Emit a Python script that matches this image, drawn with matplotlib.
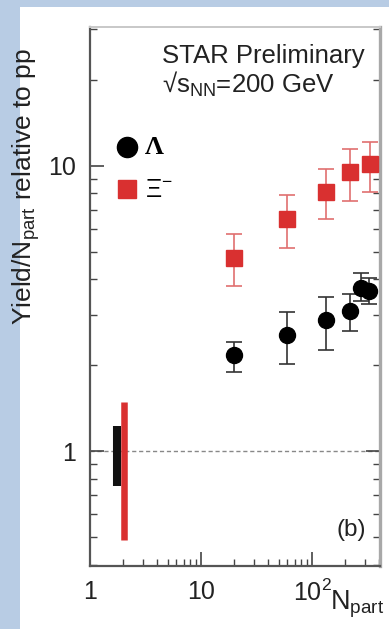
import matplotlib
matplotlib.use("Agg")
import matplotlib.pyplot as plt
from matplotlib.patches import Rectangle
from matplotlib.ticker import LogLocator, NullFormatter, FixedLocator, FixedFormatter

plt.rcParams['font.family'] = ['Liberation Sans', 'DejaVu Sans']
plt.rcParams['mathtext.fontset'] = 'custom'
plt.rcParams['mathtext.rm'] = 'Liberation Sans'
plt.rcParams['mathtext.it'] = 'Liberation Sans'
plt.rcParams['mathtext.bf'] = 'Liberation Sans:bold'

# Lambda data
npart_lambda = [20, 59, 134, 220, 276, 328]
lambda_y = [2.17, 2.55, 2.87, 3.09, 3.74, 3.65]
lambda_lo = [1.90, 2.02, 2.26, 2.63, 3.37, 3.28]
lambda_hi = [2.41, 3.06, 3.48, 3.55, 4.20, 4.05]

# Xi- data
npart_xi = [20, 60, 134, 220, 332]
xi_y = [4.76, 6.51, 8.07, 9.49, 10.1]
xi_lo = [3.78, 5.15, 6.48, 7.55, 8.07]
xi_hi = [5.77, 7.90, 9.74, 11.4, 12.1]

# normalization uncertainty bands
norm_x = [1.74, 2.04]
norm_lo = [0.755, 0.489]
norm_hi = [1.22, 1.49]

xticks = [1, 10, 100]
xticklabels = ['1', '10', '$10^{2}$']
yticks = [1, 10]
yticklabels = ['1', '10']

fig = plt.figure(figsize=(3.89, 6.29), dpi=100)
fig.patch.set_facecolor('#b8cce4')
fig.patches.append(Rectangle((20/389, 0), 1 - 20/389, 1 - 7/629,
                             transform=fig.transFigure, facecolor='white',
                             edgecolor='none', zorder=-10))

ax = fig.add_axes([90/389, 1 - 566/629, 290/389, 539/629])
ax.set_facecolor('none')
ax.set_xscale('log')
ax.set_yscale('log')
ax.set_xlim(1, 410)
ax.set_ylim(0.396, 30.6)

ax.axhline(1, color='#888888', lw=1, ls=(0, (3, 2)), zorder=1)

lam_err = [[y - l for y, l in zip(lambda_y, lambda_lo)],
           [h - y for y, h in zip(lambda_y, lambda_hi)]]
xi_err = [[y - l for y, l in zip(xi_y, xi_lo)],
          [h - y for y, h in zip(xi_y, xi_hi)]]

ax.errorbar(npart_xi, xi_y, yerr=xi_err, fmt='s', color='#d93030', ms=11,
            ecolor='#e07070', elinewidth=1.2, capsize=6, capthick=1.2, zorder=3)
ax.errorbar(npart_lambda, lambda_y, yerr=lam_err, fmt='o', color='black', ms=11.5,
            ecolor='#333333', elinewidth=1.2, capsize=6, capthick=1.2, zorder=4)

ax.plot([norm_x[0], norm_x[0]], [norm_lo[0], norm_hi[0]], color='#111111',
        lw=5.8, solid_capstyle='butt', zorder=3)
ax.plot([norm_x[1], norm_x[1]], [norm_lo[1], norm_hi[1]], color='#d93030',
        lw=4.7, solid_capstyle='butt', zorder=3)

# legend drawn manually
ax.plot([0.128], [0.778], 'o', color='black', ms=14.5, transform=ax.transAxes, clip_on=False)
ax.text(0.19, 0.776, 'Λ', transform=ax.transAxes, fontsize=19, fontweight='bold',
        va='center', ha='left', family=['Liberation Serif', 'DejaVu Serif'])
ax.plot([0.128], [0.70], 's', color='#d93030', ms=13, transform=ax.transAxes, clip_on=False)
ax.text(0.19, 0.697, 'Ξ$^{-}$', transform=ax.transAxes, fontsize=18,
        va='center', ha='left')

ax.text(0.248, 0.947, 'STAR Preliminary', transform=ax.transAxes, fontsize=18.5,
        va='center', ha='left', color='#222222')
ax.text(0.248, 0.893, '√s$_{NN}$=200 GeV', transform=ax.transAxes, fontsize=18.5,
        va='center', ha='left', color='#222222')
ax.text(0.95, 0.067, '(b)', transform=ax.transAxes, fontsize=17.5,
        va='center', ha='right', color='#222222')

ax.xaxis.set_major_locator(FixedLocator(xticks))
ax.xaxis.set_major_formatter(FixedFormatter(xticklabels))
ax.xaxis.set_minor_locator(LogLocator(base=10, subs=range(2, 10), numticks=20))
ax.xaxis.set_minor_formatter(NullFormatter())
ax.yaxis.set_major_locator(FixedLocator(yticks))
ax.yaxis.set_major_formatter(FixedFormatter(yticklabels))
ax.yaxis.set_minor_locator(LogLocator(base=10, subs=range(2, 10), numticks=20))
ax.yaxis.set_minor_formatter(NullFormatter())

ax.tick_params(which='both', direction='in', top=False, right=True,
               labelsize=18, color='#444444', labelcolor='#222222')
ax.tick_params(which='major', length=10, width=1.2)
ax.tick_params(which='minor', length=5, width=1.0)
ax.tick_params(axis='x', which='major', pad=10)
ax.tick_params(axis='y', which='major', pad=10)

ax.spines['left'].set_color('#555555')
ax.spines['bottom'].set_color('#555555')
ax.spines['left'].set_linewidth(1.6)
ax.spines['bottom'].set_linewidth(1.6)
ax.spines['right'].set_color('#a8a8a8')
ax.spines['right'].set_linewidth(2.4)
ax.spines['top'].set_color('#c8c8c8')
ax.spines['top'].set_linewidth(1.4)

ax.set_ylabel('Yield/N$_{part}$ relative to pp', fontsize=19, color='#222222')
ax.yaxis.set_label_coords(-0.165, 0.705)
ax.text(1.015, -0.072, 'N$_{part}$', transform=ax.transAxes, fontsize=19.5,
        ha='right', va='center', color='#222222')

fig.savefig('out.png', dpi=100, facecolor=fig.get_facecolor())
